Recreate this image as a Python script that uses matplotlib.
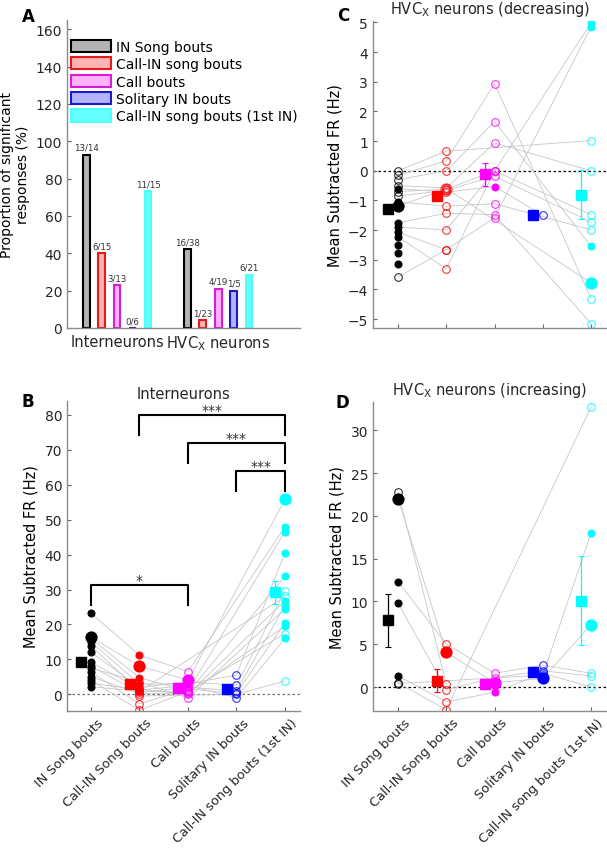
import numpy as np
import matplotlib.pyplot as plt
import matplotlib.transforms as mtransforms

nan = np.nan

# ---------------- data ----------------
bout_types = ['IN Song bouts', 'Call-IN Song bouts', 'Call bouts',
              'Solitary IN bouts', 'Call-IN song bouts (1st IN)']
legend_names = ['IN Song bouts', 'Call-IN song bouts', 'Call bouts',
                'Solitary IN bouts', 'Call-IN song bouts (1st IN)']
groups = ['Interneurons', 'HVC$_\\mathrm{X}$ neurons']

# panel A: proportion of significant responses
prop_in = [92.9, 40.0, 23.1, 0.0, 73.3]
prop_hvcx = [42.1, 4.3, 21.1, 20.0, 28.6]
frac_in = ['13/14', '6/15', '3/13', '0/6', '11/15']
frac_hvcx = ['16/38', '1/23', '4/19', '1/5', '6/21']

# panel B: interneurons, rows = neurons, cols = bout types
# kind: 0 open, 1 filled, 2 big filled (example), 3 big open
b_vals = [
    [16.3, 8.1, 4.0, nan, 55.8],
    [23.2, 11.2, 6.5, nan, 47.9],
    [16.0, 4.7, 1.0, nan, 46.6],
    [15.0, 2.9, 3.0, 5.5, 40.5],
    [13.8, 1.0, 0.5, nan, 33.8],
    [12.0, 2.0, 3.5, 2.6, 29.5],
    [9.2, 1.5, 0.0, nan, 26.8],
    [8.0, 0.5, 2.0, 1.0, 25.4],
    [7.5, 3.5, -1.1, nan, 24.4],
    [6.3, -2.7, 1.5, 0.3, 20.4],
    [5.0, 0.2, 0.3, nan, 19.5],
    [4.0, -4.6, 0.8, nan, 17.4],
    [3.2, 1.2, 2.5, -1.0, 16.0],
    [2.2, 0.8, nan, nan, 28.0],
    [nan, -0.5, nan, 0.0, 3.8],
]
b_kind = [
    [2, 2, 2, 0, 2],
    [1, 1, 0, 0, 1],
    [1, 1, 0, 0, 1],
    [1, 1, 1, 0, 1],
    [1, 1, 0, 0, 1],
    [1, 0, 1, 0, 0],
    [1, 0, 0, 0, 1],
    [1, 0, 0, 0, 1],
    [1, 0, 0, 0, 1],
    [1, 0, 0, 0, 1],
    [1, 0, 0, 0, 1],
    [1, 0, 0, 0, 0],
    [1, 1, 0, 0, 1],
    [1, 0, 0, 0, 0],
    [0, 0, 0, 0, 0],
]
b_mean = [9.2, 2.8, 1.8, 1.5, 29.2]
b_err = [0.0, 0.9, 0.4, 0.0, 3.3]

# panel C: HVCx neurons (decreasing)
c_vals = [
    [-1.2, -0.6, nan, nan, -3.78],
    [0.0, 0.66, nan, nan, 1.02],
    [-0.15, 0.34, 2.94, nan, -4.31],
    [-0.3, 0.0, 1.66, nan, -2.55],
    [-0.5, -0.58, 0.94, nan, 0.0],
    [-0.7, -0.62, 0.0, nan, -1.48],
    [-0.85, -0.66, -0.18, nan, -1.73],
    [-0.6, -0.72, -0.53, -1.5, nan],
    [-1.05, -1.19, -1.11, nan, -1.99],
    [-1.75, -1.43, -1.48, nan, -5.15],
    [-1.9, -1.99, 0.0, nan, 4.98],
    [-2.07, -2.66, -1.58, nan, 4.86],
    [-2.23, -3.30, 0.0, nan, nan],
    [-2.49, nan, nan, nan, nan],
    [-2.77, nan, nan, nan, nan],
    [-3.13, nan, nan, nan, nan],
    [-3.58, -2.66, nan, nan, nan],
]
c_kind = [
    [2, 3, 0, 0, 2],
    [0, 0, 0, 0, 0],
    [0, 0, 0, 0, 0],
    [0, 0, 0, 0, 1],
    [0, 0, 0, 0, 0],
    [0, 0, 0, 0, 0],
    [0, 0, 0, 0, 0],
    [1, 0, 1, 0, 0],
    [1, 0, 0, 0, 0],
    [1, 0, 0, 0, 0],
    [1, 0, 0, 0, 1],
    [1, 0, 0, 0, 1],
    [1, 0, 0, 0, 0],
    [1, 0, 0, 0, 0],
    [1, 0, 0, 0, 0],
    [1, 0, 0, 0, 0],
    [0, 0, 0, 0, 0],
]
c_mean = [-1.3, -0.85, -0.12, -1.5, -0.8]
c_err = [0.05, 0.15, 0.38, 0.0, 0.82]

# panel D: HVCx neurons (increasing)
d_vals = [
    [22.0, 4.05, 0.5, 1.0, 7.3],
    [22.8, 0.35, nan, nan, nan],
    [12.3, 5.03, 1.6, 2.57, 1.6],
    [9.8, -0.31, 1.1, 1.9, 1.3],
    [1.3, -1.72, -0.62, 1.6, 0.0],
    [0.47, -2.65, nan, nan, 32.7],
    [0.4, nan, nan, 1.4, 18.0],
]
d_kind = [
    [2, 2, 2, 2, 2],
    [0, 0, 0, 0, 0],
    [1, 0, 0, 0, 0],
    [1, 0, 0, 0, 0],
    [1, 0, 1, 0, 0],
    [0, 0, 0, 0, 0],
    [0, 0, 0, 0, 1],
]
d_mean = [7.8, 0.75, 0.35, 1.75, 10.1]
d_err = [3.1, 1.3, 0.3, 0.3, 5.2]

# significance brackets in B: (x1, x2, y, label)
brackets = [(2, 5, 80, '***'), (3, 5, 72, '***'), (4, 5, 64, '***'), (1, 3, 31.3, '*')]

colors = ['k', (1, 0, 0), (1, 0, 1), (0, 0, 1), (0, 1, 1)]
bar_faces = [(0.7, 0.7, 0.7), (1, 0.7, 0.7), (1, 0.7, 1), (0.7, 0.7, 1), (0.4, 1, 1)]
bar_edges = ['k', (0.9, 0.1, 0.1), (0.85, 0.1, 0.85), (0.1, 0.1, 0.8), (0.3, 1, 1)]

plt.rcParams['font.family'] = 'DejaVu Sans'
plt.rcParams['font.size'] = 10

W, H = 607, 853
fig = plt.figure(figsize=(W / 100, H / 100), dpi=100)


def box(l, r, t, b):
    return [l / W, 1 - b / H, (r - l) / W, (b - t) / H]


def style(ax):
    for s in ['top', 'right']:
        ax.spines[s].set_visible(False)
    for s in ['left', 'bottom']:
        ax.spines[s].set_color('0.55')
        ax.spines[s].set_linewidth(1.0)
    ax.tick_params(direction='in', length=3, color='0.4', labelsize=10,
                   labelcolor='0.15')


# ---------------- A ----------------
axA = fig.add_axes(box(67, 300, 21, 329))
style(axA)
offs = np.array([-2, -1, 0, 1, 2]) * 0.153
for g, (vals, fr) in enumerate([(prop_in, frac_in), (prop_hvcx, frac_hvcx)]):
    xs = g + 1 + offs
    for k in range(5):
        axA.bar(xs[k], vals[k], width=0.068, color=bar_faces[k],
                edgecolor=bar_edges[k], linewidth=1.5, zorder=2)
        axA.text(xs[k], vals[k] + 1.5, fr[k], ha='center', va='bottom',
                 fontsize=6.2, color='0.2')
axA.set_xlim(0.505, 2.81)
axA.set_ylim(0, 165)
axA.set_yticks(range(0, 161, 20))
axA.set_xticks([1, 2])
axA.set_xticklabels(groups, fontsize=10.5)
axA.tick_params(axis='x', length=0, pad=4)
axA.set_ylabel('Proportion of significant\nresponses (%)', fontsize=10, labelpad=4)
handles = [plt.Rectangle((0, 0), 1, 1, facecolor=bar_faces[k], edgecolor=bar_edges[k],
                         linewidth=1.5) for k in range(5)]
axA.legend(handles, legend_names, loc='upper left', bbox_to_anchor=(0.0, 0.95),
           frameon=False, fontsize=10, handlelength=2.9, handleheight=1.0,
           labelspacing=0.25, handletextpad=0.3, borderaxespad=0.2,
           borderpad=0.1)


def scatter_panel(ax, vals, kind, means, errs):
    x = np.arange(1, 6)
    for row in vals:
        r = np.array(row, float)
        m = ~np.isnan(r)
        ax.plot(x[m], r[m], color='0.78', lw=0.6, zorder=1)
    for i, row in enumerate(vals):
        for j in range(5):
            v = row[j]
            if np.isnan(v):
                continue
            k = kind[i][j]
            c = colors[j]
            ms = 8 if k >= 2 else (5 if k == 1 else 5.5)
            fc = c if k in (1, 2) else 'none'
            ax.plot(x[j], v, 'o', ms=ms, mfc=fc, mec=c, mew=0.8,
                    alpha=1 if k in (1, 2) else 0.8, zorder=3 if k in (1, 2) else 2)
    for j in range(5):
        ax.errorbar(x[j] - 0.2, means[j], yerr=errs[j], fmt='s', ms=6.5,
                    color=colors[j], mec=colors[j], elinewidth=0.9, capsize=2,
                    capthick=0.8, zorder=4)
    ax.set_xticks(x)
    ax.set_xticklabels(bout_types, rotation=45, ha='right', va='top',
                       rotation_mode='anchor', fontsize=9.3)
    shift = mtransforms.ScaledTranslation(6 / 100, 0, fig.dpi_scale_trans)
    for t in ax.get_xticklabels():
        t.set_transform(t.get_transform() + shift)


# ---------------- B ----------------
axB = fig.add_axes(box(67, 300, 402, 712))
style(axB)
axB.axhline(0, color='0.45', lw=0.9, ls=(0, (2, 2)), zorder=0)
scatter_panel(axB, b_vals, b_kind, b_mean, b_err)
axB.set_xlim(0.505, 5.31)
axB.set_ylim(-4.8, 84)
axB.set_yticks(range(0, 81, 10))
for x1, x2, y, lab in brackets:
    axB.plot([x1, x1, x2, x2], [y - 5.8, y, y, y - 5.8], color='k', lw=1.5, zorder=5)
    axB.text((x1 + x2) / 2, y + 0.3, lab, ha='center', va='baseline',
             fontsize=10, color='0.2')
axB.set_ylabel('Mean Subtracted FR (Hz)', fontsize=10.5)
axB.set_title('Interneurons', fontsize=10.5, pad=2, color='0.15')

# ---------------- C ----------------
axC = fig.add_axes(box(373, 607, 22, 329))
style(axC)
axC.axhline(0, color='k', lw=0.9, ls=(0, (2, 2)), zorder=0)
scatter_panel(axC, c_vals, c_kind, c_mean, c_err)
axC.set_xticklabels([])
axC.set_xlim(0.48, 5.33)
axC.set_ylim(-5.3, 5.05)
axC.set_yticks(range(-5, 6))
axC.set_ylabel('Mean Subtracted FR (Hz)', fontsize=10.5)
axC.set_title('HVC$_\\mathrm{X}$ neurons (decreasing)', fontsize=10.5, pad=6,
              color='0.15')

# ---------------- D ----------------
axD = fig.add_axes(box(373, 607, 403, 712))
style(axD)
axD.axhline(0, color='k', lw=0.9, ls=(0, (2, 2)), zorder=0)
scatter_panel(axD, d_vals, d_kind, d_mean, d_err)
axD.set_xlim(0.48, 5.33)
axD.set_ylim(-2.8, 33.3)
axD.set_yticks(range(0, 31, 5))
axD.set_ylabel('Mean Subtracted FR (Hz)', fontsize=10.5)
axD.set_title('HVC$_\\mathrm{X}$ neurons (increasing)', fontsize=10.5, pad=6,
              color='0.15')

for lab, (px, py) in zip('ABCD', [(28, 17), (28, 402), (343, 16), (342, 403)]):
    fig.text(px / W, 1 - py / H, lab, fontsize=12, fontweight='bold',
             ha='center', va='center')

fig.savefig('out.png', dpi=100)
